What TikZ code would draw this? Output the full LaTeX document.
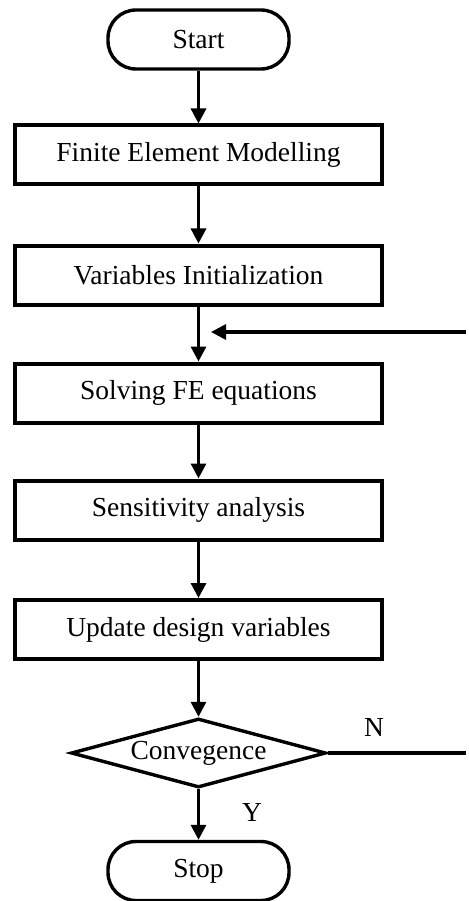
\documentclass[tikz,border=0pt]{standalone}
\usepackage{fontspec}
\setmainfont{Liberation Serif}
\usetikzlibrary{arrows.meta,shapes.geometric}
\begin{document}
\begin{tikzpicture}[x=1pt,y=-1pt,
  font=\fontsize{27.5}{32}\selectfont,
  terminal/.style={draw,line width=3.4pt,rounded corners=28pt,minimum width=181pt,minimum height=59pt,inner sep=0pt},
  process/.style={draw,line width=4pt,minimum width=367pt,minimum height=59pt,inner sep=0pt},
  decision/.style={draw,diamond,line width=3.4pt,aspect=3.7,minimum width=255pt,minimum height=69pt,inner sep=0pt},
  flow/.style={line width=3.2pt,-{Triangle[width=15pt,length=15pt]}},
  plain/.style={line width=3.2pt}]
  \useasboundingbox (0,0) rectangle (468,901);

  \node[terminal] (start) at (198.5,39.5) {Start};
  \node[process] (fem) at (198.5,155) {Finite Element Modelling};
  \node[process] (init) at (198.5,275) {Variables Initialization};
  \node[process] (solve) at (198.5,393) {Solving FE equations};
  \node[process] (sens) at (198.5,510) {Sensitivity analysis};
  \node[process] (upd) at (198.5,629.5) {Update design variables};
  \node[decision] (conv) at (198.5,753) {Convegence};
  \node[terminal] (stop) at (198.5,871) {Stop};

  \draw[flow] (start) -- (fem);
  \draw[flow] (fem) -- (init);
  \draw[flow] (init) -- (solve);
  \draw[flow] (solve) -- (sens);
  \draw[flow] (sens) -- (upd);
  \draw[flow] (upd) -- (conv);
  \draw[flow] (conv) -- (stop);

  % loop back: "N" branch leaves to the right, return arrow enters above the solver
  \coordinate (nend) at (466,753);
  \coordinate (retstart) at (466,332);
  \coordinate (rettip) at (211,332);
  \draw[plain] (conv.east) -- (nend);
  \draw[flow] (retstart) -- (rettip);

  \node (nlab) at (374,727) {N};
  \node (ylab) at (252,812) {Y};
\end{tikzpicture}
\end{document}
